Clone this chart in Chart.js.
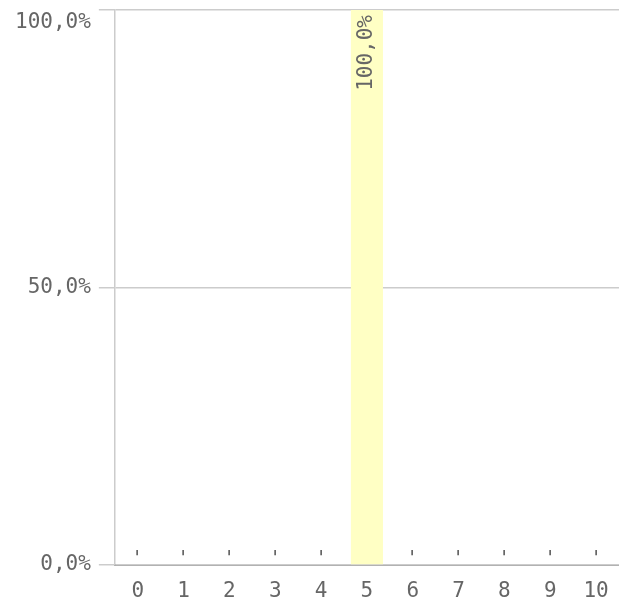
<!DOCTYPE html>
<html lang="de">
<head>
  <meta charset="UTF-8" />
  <title>Verteilung</title>
  <script src="https://cdn.jsdelivr.net/npm/chart.js"></script>
  <style>
    html, body { margin: 0; padding: 0; background: #fff; }
    #wrap { width: 619px; height: 612px; }
  </style>
</head>
<body>
  <div id="wrap"><canvas id="chart"></canvas></div>

  <script>
    // Daten
    const categories = ['0', '1', '2', '3', '4', '5', '6', '7', '8', '9', '10'];
    const shares = [0, 0, 0, 0, 0, 1, 0, 0, 0, 0, 0];
    const yTicks = [0, 0.5, 1];

    const FONT = { family: "'DejaVu Sans Mono', monospace", size: 21 };

    function pct(v) {
      return (v * 100).toFixed(1).replace('.', ',') + '%';
    }

    // Werte senkrecht an die Balken schreiben
    const barLabels = {
      id: 'barLabels',
      afterDatasetsDraw(chart) {
        const ctx = chart.ctx;
        const meta = chart.getDatasetMeta(0);
        ctx.save();
        ctx.font = FONT.size + 'px ' + FONT.family;
        ctx.fillStyle = '#666';
        ctx.textBaseline = 'middle';
        meta.data.forEach((bar, i) => {
          const v = shares[i];
          const text = v > 0 ? pct(v) : '-';
          const w = ctx.measureText(text).width;
          const h = bar.base - bar.y;
          ctx.save();
          ctx.translate(bar.x, 0);
          ctx.rotate(-Math.PI / 2);
          if (h > w + 10) {
            ctx.textAlign = 'right';
            ctx.fillText(text, -(bar.y + 5), 0);
          } else {
            ctx.textAlign = 'left';
            ctx.fillText(text, -(bar.base - 6), 0);
          }
          ctx.restore();
        });
        ctx.restore();
      }
    };

    new Chart(document.getElementById('chart'), {
      type: 'bar',
      data: {
        labels: categories,
        datasets: [{
          data: shares,
          backgroundColor: '#ffffc4',
          borderWidth: 0,
          barPercentage: 0.7,
          categoryPercentage: 1.0
        }]
      },
      options: {
        responsive: true,
        maintainAspectRatio: false,
        animation: false,
        layout: { padding: { top: 10, right: 0, left: 7, bottom: 0 } },
        plugins: {
          legend: { display: false },
          tooltip: { enabled: false }
        },
        scales: {
          x: {
            grid: { display: false, drawTicks: false },
            border: { display: true, color: '#999', width: 2, z: -1 },
            afterFit(scale) {
              scale.height = 47;
              scale.paddingLeft = 0;
              scale.paddingRight = 0;
            },
            ticks: { color: '#666', font: FONT, padding: 14, maxRotation: 0, autoSkip: false }
          },
          y: {
            min: 0,
            max: 1,
            afterBuildTicks(scale) {
              scale.ticks = yTicks.map(v => ({ value: v }));
            },
            afterFit(scale) {
              scale.paddingTop = 0;
              scale.paddingBottom = 0;
            },
            grid: { color: '#ccc', lineWidth: 1.5, tickLength: 16 },
            border: { color: '#ccc', width: 1.5 },
            // oberste Beschriftung sitzt im Original unter der Linie
            ticks: { color: '#666', font: FONT, padding: 8, callback: v => v === 1 ? ['', pct(v)] : pct(v) }
          }
        }
      },
      plugins: [barLabels]
    });
  </script>
</body>
</html>
